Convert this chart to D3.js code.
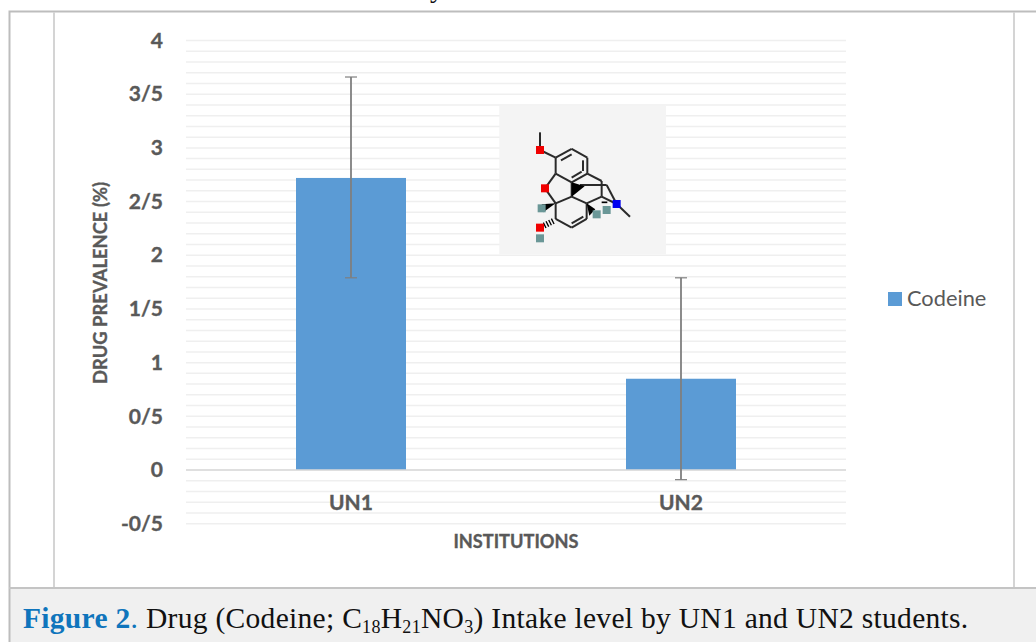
<!DOCTYPE html>
<html>
<head>
<meta charset="utf-8">
<script src="https://cdnjs.cloudflare.com/ajax/libs/d3/7.8.5/d3.min.js"></script>
<style>
html, body { margin: 0; padding: 0; background: #fff; overflow: hidden; }
svg { display: block; }
text { font-family: Lato, "Open Sans", sans-serif; }
.caption { font-family: "Liberation Serif", serif; }
.heavy { stroke: #595959; stroke-width: 0.35; }
</style>
</head>
<body>
<svg width="1036" height="642"></svg>
<script>
const categories = ['UN1', 'UN2'];
const values = [2.72, 0.85];
const errorLow = [1.79, -0.09];
const errorHigh = [3.66, 1.79];
const tickValues = [4, 3.5, 3, 2.5, 2, 1.5, 1, 0.5, 0, -0.5];
const tickLabels = ['4', '3/5', '3', '2/5', '2', '1/5', '1', '0/5', '0', '-0/5'];
const minorTicks = d3.range(-5, 41).map(d => d / 10);

const svg = d3.select('svg');
const width = +svg.attr('width');
const height = +svg.attr('height');

// page frame around the figure
svg.append('rect').attr('x', 9).attr('y', 589).attr('width', width - 9).attr('height', 53).attr('fill', '#f0f0f0');
svg.append('path').attr('d', 'M1036,11.5H9.5V642').attr('fill', 'none').attr('stroke', '#bdbdbd').attr('stroke-width', 2);
svg.append('path').attr('d', 'M9,588H1036').attr('stroke', '#c4c4c4').attr('stroke-width', 2);
svg.append('path').attr('d', 'M54,12V587M1014,12V587').attr('stroke', '#d4d4d4').attr('stroke-width', 2);

// tail of the line cut off above the figure
svg.append('text').attr('class', 'caption').attr('x', 430).attr('y', -3)
    .attr('font-size', 28).attr('fill', '#111').text('y');

const xScale = d3.scaleBand().domain(categories).range([186, 846]);
const yScale = d3.scaleLinear().domain([-0.5, 4]).range([523.7, 40.5]);
const barWidth = xScale.bandwidth() / 3;
const cx = d => xScale(d) + xScale.bandwidth() / 2;

// gridlines
svg.append('g').selectAll('line')
    .data(minorTicks)
    .enter().append('line')
    .attr('x1', 186).attr('x2', 846)
    .attr('y1', d => yScale(d)).attr('y2', d => yScale(d))
    .attr('stroke', '#efefef').attr('stroke-width', 1.5);

// y axis, labels only
const yAxis = d3.axisLeft(yScale)
    .tickValues(tickValues)
    .tickFormat((d, i) => tickLabels[i])
    .tickSize(0)
    .tickPadding(0);
const yAxisG = svg.append('g').attr('transform', 'translate(163,0)').call(yAxis);
yAxisG.select('.domain').remove();
yAxisG.selectAll('text')
    .attr('font-family', null)
    .attr('class', 'heavy')
    .attr('font-size', 21).attr('font-weight', 700).attr('fill', '#595959');

// bars
svg.append('g').selectAll('rect')
    .data(categories)
    .enter().append('rect')
    .attr('x', d => cx(d) - barWidth / 2)
    .attr('y', (d, i) => yScale(values[i]))
    .attr('width', barWidth)
    .attr('height', (d, i) => yScale(0) - yScale(values[i]))
    .attr('fill', '#5b9bd5');

// zero line
svg.append('line')
    .attr('x1', 186).attr('x2', 846)
    .attr('y1', yScale(0)).attr('y2', yScale(0))
    .attr('stroke', '#d9d9d9').attr('stroke-width', 1.5);

// x axis labels
const xAxisG = svg.append('g').attr('transform', `translate(0,${yScale(0)})`)
    .call(d3.axisBottom(xScale).tickSize(0).tickPadding(25));
xAxisG.select('.domain').remove();
xAxisG.selectAll('text')
    .attr('font-family', null)
    .attr('class', 'heavy')
    .attr('font-size', 21).attr('font-weight', 700).attr('fill', '#595959');

// error bars
const err = svg.append('g').attr('stroke', '#7f7f7f').attr('fill', 'none');
categories.forEach((c, i) => {
    err.append('line').attr('x1', cx(c)).attr('x2', cx(c))
        .attr('y1', yScale(errorLow[i])).attr('y2', yScale(errorHigh[i])).attr('stroke-width', 1.8);
    [errorLow[i], errorHigh[i]].forEach(v => {
        err.append('line').attr('x1', cx(c) - 6).attr('x2', cx(c) + 6)
            .attr('y1', yScale(v)).attr('y2', yScale(v)).attr('stroke-width', 1.2);
    });
});

// axis titles
svg.append('text').attr('class', 'heavy').attr('transform', 'translate(107,283) rotate(-90)')
    .attr('text-anchor', 'middle')
    .attr('font-size', 18.4).attr('font-weight', 700).attr('fill', '#595959')
    .text('DRUG PREVALENCE (%)');
svg.append('text').attr('class', 'heavy').attr('x', 516).attr('y', 548)
    .attr('text-anchor', 'middle')
    .attr('font-size', 18.2).attr('font-weight', 700).attr('fill', '#595959')
    .text('INSTITUTIONS');

// legend
svg.append('rect').attr('x', 888).attr('y', 292).attr('width', 14).attr('height', 14).attr('fill', '#5b9bd5');
svg.append('text').attr('x', 907).attr('y', 306)
    .attr('font-size', 21.8).attr('fill', '#595959').text('Codeine');

// codeine structure inset, points in zoomed pixels of the inset
const defs = svg.append('defs');
defs.append('filter').attr('id', 'soft').append('feGaussianBlur').attr('stdDeviation', 1.5);
const inset = svg.append('g').attr('transform', 'translate(490,95) scale(0.3333)');
inset.append('rect').attr('x', 28).attr('y', 32).attr('width', 500).attr('height', 446).attr('fill', '#f4f4f4');
const mol = inset.append('g').attr('filter', 'url(#soft)');
const bonds = [
    [150,112,150,165],[150,165,197,188],[197,188,245,162],[245,162,292,188],[292,188,292,236],
    [292,236,245,262],[245,262,197,236],[197,236,197,188],[213,196,245,178],[279,196,279,228],
    [245,248,275,230],[197,236,165,280],[165,280,197,325],[245,262,245,305],[292,236,335,258],
    [335,258,335,305],[245,305,197,325],[245,305,290,325],[290,325,335,305],[197,325,197,372],
    [197,372,245,398],[245,398,290,372],[290,372,290,325],[245,385,280,365],[270,270,350,270],
    [350,270,380,327],[335,305,380,327],[380,327,420,365]
];
mol.append('g').selectAll('line')
    .data(bonds)
    .enter().append('line')
    .attr('x1', d => d[0]).attr('y1', d => d[1]).attr('x2', d => d[2]).attr('y2', d => d[3])
    .attr('stroke', '#2a2a2a').attr('stroke-width', 6);
const wedges = ['245,305 245,262 284,274', '197,325 155,328 160,352', '290,325 316,343 298,362'];
mol.append('g').selectAll('polygon')
    .data(wedges)
    .enter().append('polygon')
    .attr('points', d => d).attr('fill', '#000');
mol.append('line').attr('x1', 190).attr('y1', 378).attr('x2', 150).attr('y2', 398)
    .attr('stroke', '#000').attr('stroke-width', 18).attr('stroke-dasharray', '4 5');
mol.append('line').attr('x1', 335).attr('y1', 322).attr('x2', 352).attr('y2', 322)
    .attr('stroke', '#000').attr('stroke-width', 5);
const atoms = [
    [150,165,'#f00000'],[165,280,'#f00000'],[150,398,'#f00000'],[380,327,'#0000f0'],
    [155,340,'#6a9797'],[320,358,'#6a9797'],[350,345,'#6a9797'],[150,430,'#6a9797']
];
mol.append('g').selectAll('rect')
    .data(atoms)
    .enter().append('rect')
    .attr('x', d => d[0] - 12).attr('y', d => d[1] - 12)
    .attr('width', 24).attr('height', 24)
    .attr('fill', d => d[2]);

// caption
const caption = svg.append('text').attr('class', 'caption').attr('x', 23).attr('y', 628)
    .attr('font-size', 29.5).attr('letter-spacing', 0.3).attr('fill', '#111');
caption.append('tspan').attr('font-weight', 700).attr('fill', '#0f75bc').text('Figure 2');
caption.append('tspan').attr('fill', '#0f75bc').text('.');
caption.append('tspan').text(' Drug (Codeine; C');
caption.append('tspan').attr('font-size', 18).attr('dy', 5).text('18');
caption.append('tspan').attr('dy', -5).text('H');
caption.append('tspan').attr('font-size', 18).attr('dy', 5).text('21');
caption.append('tspan').attr('dy', -5).text('NO');
caption.append('tspan').attr('font-size', 18).attr('dy', 5).text('3');
caption.append('tspan').attr('dy', -5).text(') Intake level by UN1 and UN2 students.');
</script>
</body>
</html>
